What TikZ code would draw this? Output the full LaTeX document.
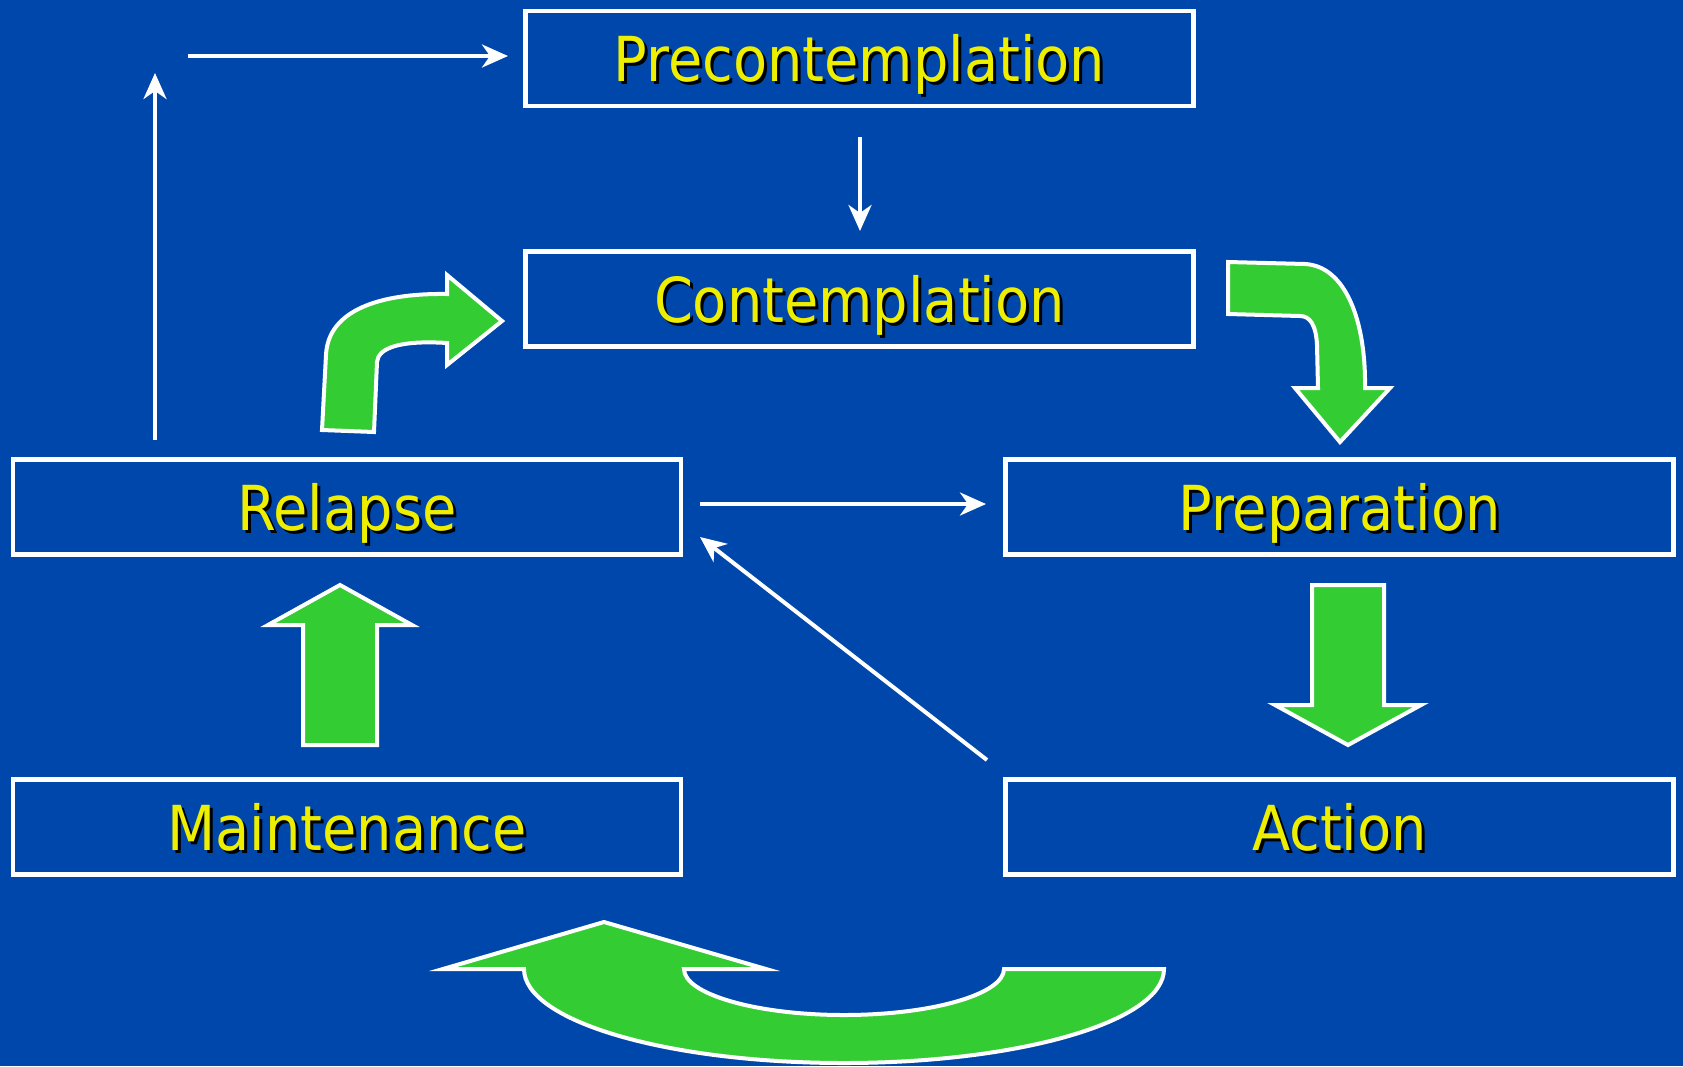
\documentclass[tikz,border=0pt]{standalone}
\usepackage{fontspec}
\newfontfamily\labfont{DejaVu Sans Condensed}
\usetikzlibrary{arrows.meta,calc}
\definecolor{bgblue}{RGB}{0,71,171}
\definecolor{labyellow}{RGB}{238,238,0}
\definecolor{arrgreen}{RGB}{51,204,51}
\tikzset{
  stagebox/.style={draw=white, line width=4.5pt, minimum width=668pt, minimum height=95pt, inner sep=0pt},
  labtxt/.style={text=labyellow, font=\labfont\fontsize{62}{70}\selectfont, anchor=base, inner sep=0pt},
  labshadow/.style={text=black, font=\labfont\fontsize{62}{70}\selectfont, anchor=base, inner sep=0pt},
  thinarrow/.style={draw=white, line width=4pt, -{Stealth[length=26pt,width=23pt,inset=8pt]}},
  blockarrow/.style={fill=arrgreen, draw=white, line width=4pt, line join=miter}
}
\newcommand{\stagelabel}[2]{%
  \node[labshadow] at ($(#1)+(3,26)$) {#2};
  \node[labtxt] at ($(#1)+(0,23)$) {#2};
}
\begin{document}
\begin{tikzpicture}[x=1pt,y=-1pt]
\useasboundingbox (0,0) rectangle (1683,1066);
\fill[bgblue] (0,0) rectangle (1683,1066);

% boxes
\node[stagebox] (pre) at (859.5,58.5) {};
\node[stagebox] (con) at (859.5,299) {};
\node[stagebox] (rel) at (347,507) {};
\node[stagebox] (prep) at (1339.5,507) {};
\node[stagebox] (main) at (347,827) {};
\node[stagebox] (act) at (1339.5,827) {};

\stagelabel{pre}{Precontemplation}
\stagelabel{con}{Contemplation}
\stagelabel{rel}{Relapse}
\stagelabel{prep}{Preparation}
\stagelabel{main}{Maintenance}
\stagelabel{act}{Action}

% thin connectors
\coordinate (relup) at (155,440);
\coordinate (corner) at (155,73);
\coordinate (topstart) at (188,56);
\coordinate (topend) at (508,56);
\coordinate (prebot) at (860,137);
\coordinate (contop) at (860,231);
\coordinate (relright) at (700,504);
\coordinate (prepleft) at (986,504);
\coordinate (actcorner) at (987,760);
\coordinate (reltip) at (700,537);

\draw[thinarrow] (relup) -- (corner);
\draw[thinarrow] (topstart) -- (topend);
\draw[thinarrow] (prebot) -- (contop);
\draw[thinarrow] (relright) -- (prepleft);
\draw[thinarrow] (actcorner) -- (reltip);

% green block arrows
% Maintenance -> Relapse
\draw[blockarrow] (303,745) -- (303,625) -- (268,625) -- (340,585) -- (412,625) -- (377,625) -- (377,745) -- cycle;
% Preparation -> Action
\draw[blockarrow] (1312,585) -- (1384,585) -- (1384,705) -- (1421,705) -- (1348,745) -- (1275,705) -- (1312,705) -- cycle;
% Relapse -> Contemplation (curved)
\draw[blockarrow] (322,430) -- (326,355) .. controls (328,310) and (380,293) .. (447,294)
  -- (447,275) -- (502,321) -- (447,365) -- (447,343)
  .. controls (400,340) and (378,348) .. (377,362) -- (374,432) -- cycle;
% Contemplation -> Preparation (curved)
\draw[blockarrow] (1228,262) -- (1305,264) .. controls (1345,266) and (1366,320) .. (1365,388)
  -- (1390,388) -- (1340,442) -- (1295,388) -- (1318,388) -- (1317,345)
  .. controls (1316,325) and (1310,316) .. (1300,316) -- (1228,314) -- cycle;
% Action -> Maintenance (U-turn)
\draw[blockarrow] (1164,969) .. controls (1164,1021) and (1021,1063) .. (844,1063)
  .. controls (667,1063) and (524,1021) .. (524,969)
  -- (443,969) -- (604,922) -- (766,969) -- (684,969)
  .. controls (684,994) and (756,1015) .. (844,1015)
  .. controls (932,1015) and (1004,994) .. (1004,969) -- cycle;
\end{tikzpicture}
\end{document}
